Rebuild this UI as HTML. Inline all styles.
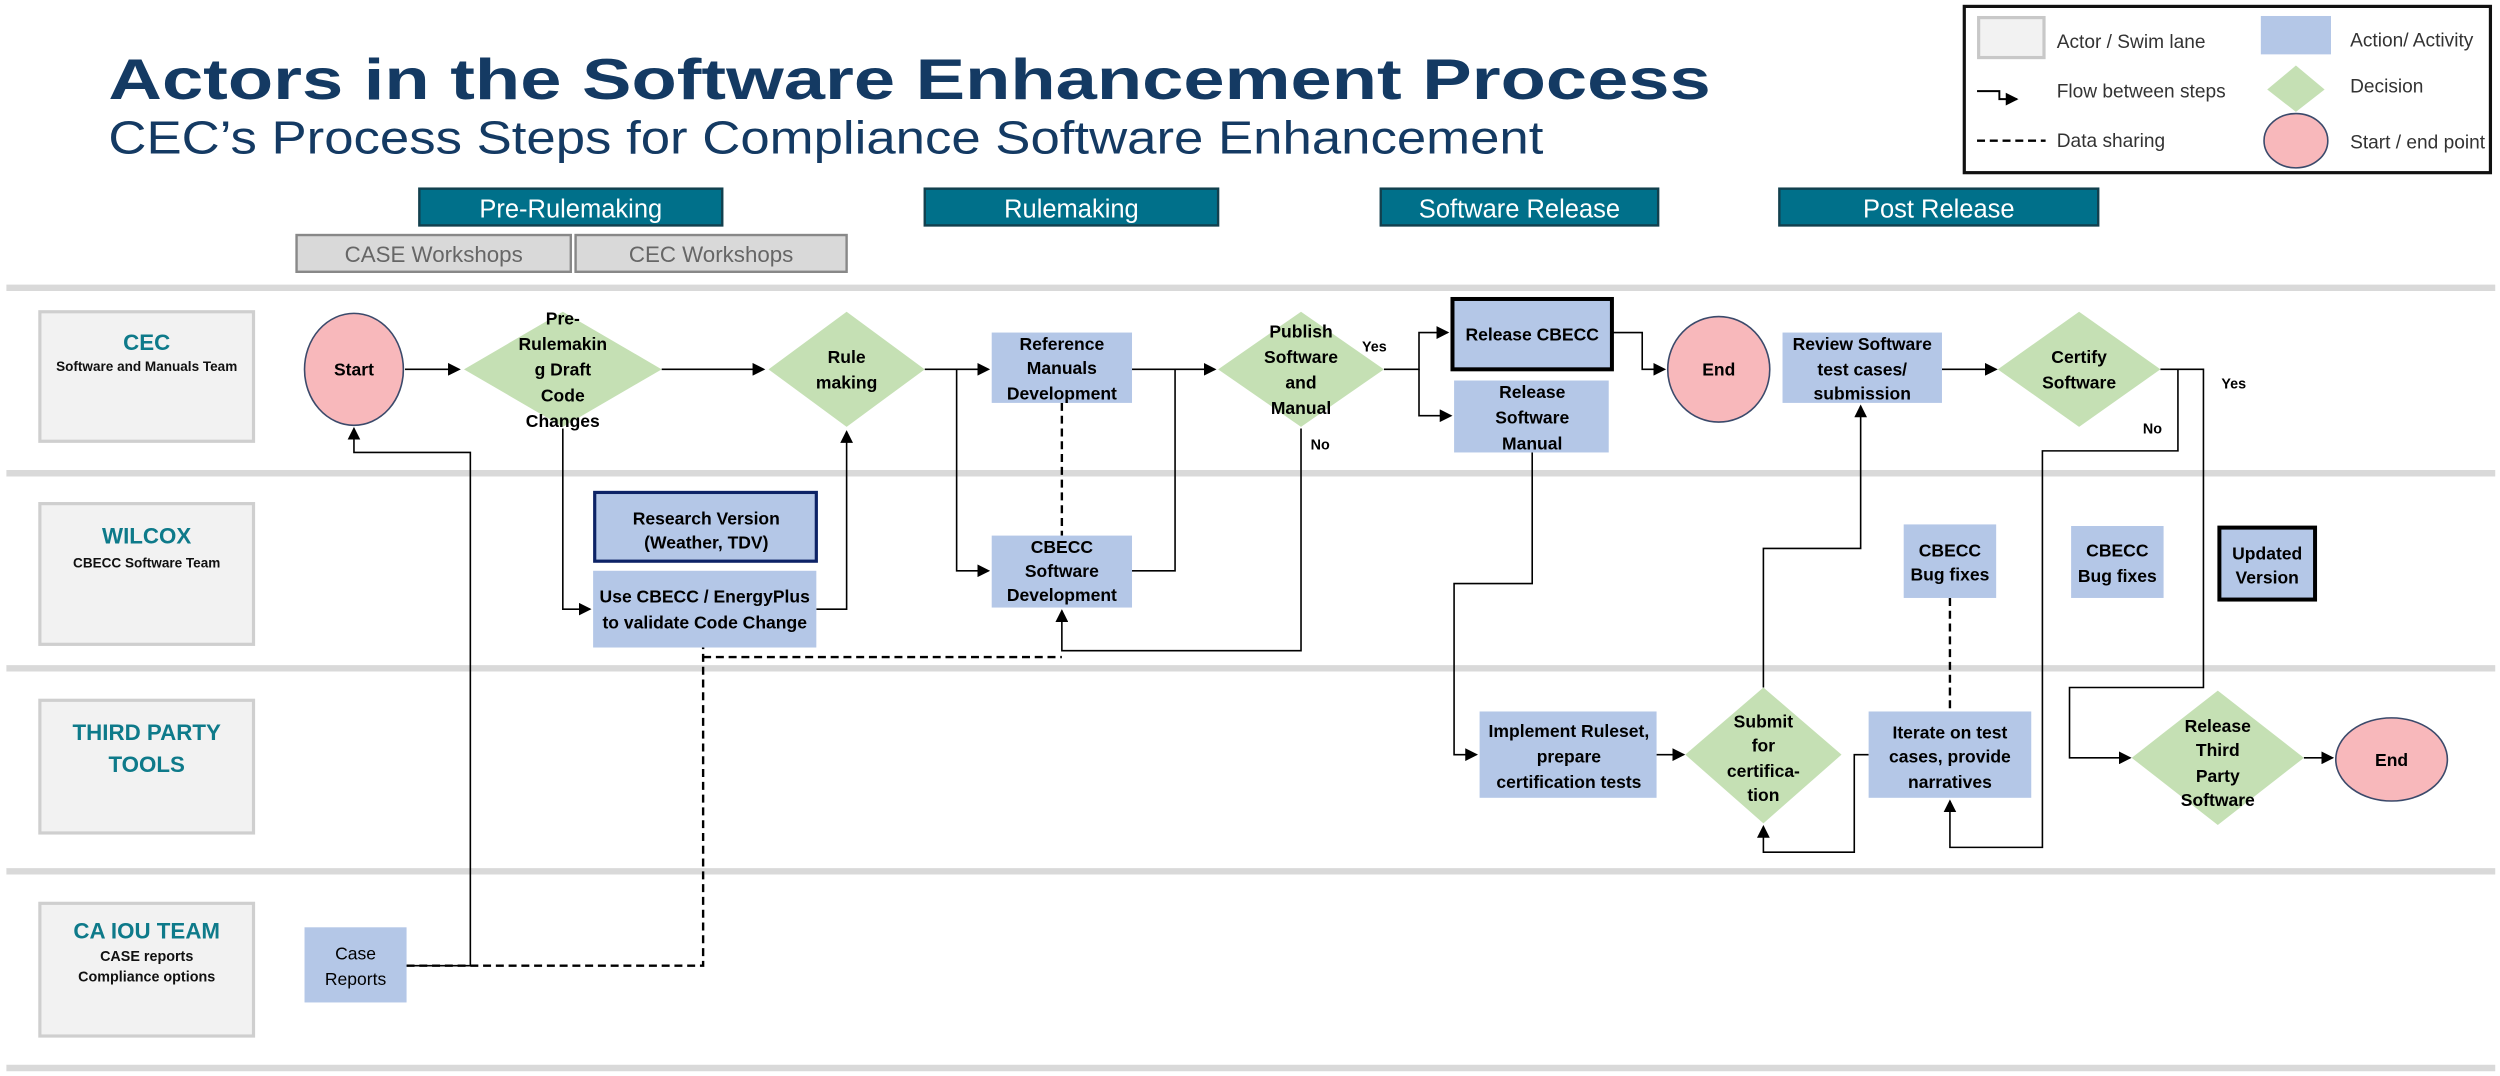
<!DOCTYPE html>
<html><head><meta charset="utf-8"><style>
html,body{margin:0;padding:0;background:#fff}
svg{display:block}
text{font-family:"Liberation Sans",sans-serif}
</style></head><body>
<svg width="2500" height="1076" viewBox="0 0 1568 673" preserveAspectRatio="none" xmlns="http://www.w3.org/2000/svg">
<defs>
<marker id="a" markerWidth="8" markerHeight="8" refX="7" refY="4" orient="auto" markerUnits="userSpaceOnUse"><path d="M0,0 L8,4 L0,8 z" fill="#000"/></marker>
</defs>
<!-- title -->
<text x="68" y="62" font-size="36" font-weight="bold" fill="#143a63" textLength="1005" lengthAdjust="spacingAndGlyphs">Actors in the Software Enhancement Process</text>
<text x="68" y="96" font-size="29" fill="#143a63" textLength="900" lengthAdjust="spacingAndGlyphs">CEC’s Process Steps for Compliance Software Enhancement</text>
<!-- legend -->
<rect x="1232" y="4" width="330" height="104" fill="#fff" stroke="#111" stroke-width="2"/>
<rect x="1241" y="11" width="41" height="25" fill="#f2f2f2" stroke="#c8c8c8" stroke-width="2"/>
<text x="1290" y="30" font-size="12" fill="#333">Actor / Swim lane</text>
<rect x="1418" y="10" width="44" height="24" fill="#b4c7e7"/>
<text x="1474" y="29" font-size="12" fill="#333">Action/ Activity</text>
<path d="M1240,57 H1254 V62 H1265" fill="none" stroke="#000" stroke-width="1.2" marker-end="url(#a)"/>
<text x="1290" y="61" font-size="12" fill="#333">Flow between steps</text>
<path d="M1440,41 L1458,56 L1440,70 L1422,56 z" fill="#c5e0b4"/>
<text x="1474" y="58" font-size="12" fill="#333">Decision</text>
<line x1="1240" y1="88" x2="1283" y2="88" stroke="#000" stroke-width="1.5" stroke-dasharray="5,3"/>
<text x="1290" y="92" font-size="12" fill="#333">Data sharing</text>
<ellipse cx="1440" cy="88" rx="20" ry="17" fill="#f8b8bb" stroke="#3b4a6b" stroke-width="1"/>
<text x="1474" y="93" font-size="12" fill="#333">Start / end point</text>
<!-- phases -->
<g font-size="16" fill="#fff" text-anchor="middle">
<rect x="263" y="118" width="190" height="23" fill="#00708a" stroke="#12404e" stroke-width="1.5"/>
<text x="358" y="136">Pre-Rulemaking</text>
<rect x="580" y="118" width="184" height="23" fill="#00708a" stroke="#12404e" stroke-width="1.5"/>
<text x="672" y="136">Rulemaking</text>
<rect x="866" y="118" width="174" height="23" fill="#00708a" stroke="#12404e" stroke-width="1.5"/>
<text x="953" y="136">Software Release</text>
<rect x="1116" y="118" width="200" height="23" fill="#00708a" stroke="#12404e" stroke-width="1.5"/>
<text x="1216" y="136">Post Release</text>
</g>
<g font-size="14" fill="#666" text-anchor="middle">
<rect x="186" y="147" width="172" height="23" fill="#d9d9d9" stroke="#888" stroke-width="1.5"/>
<text x="272" y="164">CASE Workshops</text>
<rect x="361" y="147" width="170" height="23" fill="#d9d9d9" stroke="#888" stroke-width="1.5"/>
<text x="446" y="164">CEC Workshops</text>
</g>
<!-- lanes -->
<g stroke="#d9d9d9" stroke-width="4">
<line x1="4" y1="180" x2="1565" y2="180"/>
<line x1="4" y1="296" x2="1565" y2="296"/>
<line x1="4" y1="418" x2="1565" y2="418"/>
<line x1="4" y1="545" x2="1565" y2="545"/>
<line x1="4" y1="668" x2="1565" y2="668"/>
</g>
<g fill="#f2f2f2" stroke="#cfcfcf" stroke-width="2">
<rect x="25" y="195" width="134" height="81"/>
<rect x="25" y="315" width="134" height="88"/>
<rect x="25" y="438" width="134" height="83"/>
<rect x="25" y="565" width="134" height="83"/>
</g>
<g text-anchor="middle">
<text x="92" y="219" font-size="14" font-weight="bold" fill="#0e7a8a">CEC</text>
<text x="92" y="232" font-size="8.5" font-weight="bold" fill="#111">Software and Manuals Team</text>
<text x="92" y="340" font-size="14" font-weight="bold" fill="#0e7a8a">WILCOX</text>
<text x="92" y="355" font-size="8.5" font-weight="bold" fill="#111">CBECC Software Team</text>
<text x="92" y="463" font-size="14" font-weight="bold" fill="#0e7a8a">THIRD PARTY</text>
<text x="92" y="483" font-size="14" font-weight="bold" fill="#0e7a8a">TOOLS</text>
<text x="92" y="587" font-size="14" font-weight="bold" fill="#0e7a8a">CA IOU TEAM</text>
<text x="92" y="601" font-size="9" font-weight="bold" fill="#111">CASE reports</text>
<text x="92" y="614" font-size="9" font-weight="bold" fill="#111">Compliance options</text>
</g>
<!-- connectors -->
<g fill="none" stroke="#000" stroke-width="1">
<path d="M254,231 H288" marker-end="url(#a)"/>
<path d="M415,231 H479" marker-end="url(#a)"/>
<path d="M580,231 H620" marker-end="url(#a)"/>
<path d="M600,231 V357 H620" marker-end="url(#a)"/>
<path d="M710,231 H762" marker-end="url(#a)"/>
<path d="M710,357 H737 V231"/>
<path d="M868,231 H890 V208 H908" marker-end="url(#a)"/>
<path d="M890,231 V260 H910" marker-end="url(#a)"/>
<path d="M816,268 V407 H666 V382" marker-end="url(#a)"/>
<path d="M1012,208 H1030 V231 H1044" marker-end="url(#a)"/>
<path d="M961,283 V365 H912 V472 H926" marker-end="url(#a)"/>
<path d="M1039,472 H1056" marker-end="url(#a)"/>
<path d="M1106,430 V343 H1167 V254" marker-end="url(#a)"/>
<path d="M1218,231 H1252" marker-end="url(#a)"/>
<path d="M1355,231 H1382 V430 H1298 V474 H1336" marker-end="url(#a)"/>
<path d="M1366,231 V282 H1281 V530 H1223 V501" marker-end="url(#a)"/>
<path d="M1172,472 H1163 V533 H1106 V517" marker-end="url(#a)"/>
<path d="M1445,474 H1463" marker-end="url(#a)"/>
<path d="M353,268 V381 H370" marker-end="url(#a)"/>
<path d="M512,381 H531 V270" marker-end="url(#a)"/>
<path d="M255,604 H295 V283 H222 V268" marker-end="url(#a)"/>
</g>
<g fill="none" stroke="#000" stroke-width="1.5" stroke-dasharray="5,3">
<path d="M666,252 V335"/>
<path d="M255,604 H441 V405"/>
<path d="M441,411 H666"/>
<path d="M1223,374 V445"/>
</g>
<!-- nodes -->
<g font-size="11" font-weight="bold" fill="#000" text-anchor="middle">
<ellipse cx="222" cy="231" rx="31" ry="35" fill="#f8b8bb" stroke="#3b4a6b"/>
<text x="222" y="235">Start</text>
<path d="M353,195 L415,231 L353,267 L291,231 z" fill="#c5e0b4"/>
<text x="353" y="203">Pre-</text><text x="353" y="219">Rulemakin</text><text x="353" y="235">g Draft</text><text x="353" y="251">Code</text><text x="353" y="267">Changes</text>
<path d="M531,195 L580,231 L531,267 L482,231 z" fill="#c5e0b4"/>
<text x="531" y="227">Rule</text><text x="531" y="243">making</text>
<rect x="622" y="208" width="88" height="44" fill="#b4c7e7"/>
<text x="666" y="219">Reference</text><text x="666" y="234">Manuals</text><text x="666" y="250">Development</text>
<rect x="622" y="335" width="88" height="45" fill="#b4c7e7"/>
<text x="666" y="346">CBECC</text><text x="666" y="361">Software</text><text x="666" y="376">Development</text>
<path d="M816,195 L868,231 L816,267 L764,231 z" fill="#c5e0b4"/>
<text x="816" y="211">Publish</text><text x="816" y="227">Software</text><text x="816" y="243">and</text><text x="816" y="259">Manual</text>
<text x="862" y="220" font-size="9">Yes</text>
<text x="828" y="281" font-size="9">No</text>
<rect x="911" y="187" width="100" height="44" fill="#b4c7e7" stroke="#000" stroke-width="2.5"/>
<text x="961" y="213">Release CBECC</text>
<rect x="912" y="238" width="97" height="45" fill="#b4c7e7"/>
<text x="961" y="249">Release</text><text x="961" y="265">Software</text><text x="961" y="281">Manual</text>
<ellipse cx="1078" cy="231" rx="32" ry="33" fill="#f8b8bb" stroke="#3b4a6b"/>
<text x="1078" y="235">End</text>
<rect x="1118" y="208" width="100" height="44" fill="#b4c7e7"/>
<text x="1168" y="219">Review Software</text><text x="1168" y="235">test cases/</text><text x="1168" y="250">submission</text>
<path d="M1304,195 L1355,231 L1304,267 L1253,231 z" fill="#c5e0b4"/>
<text x="1304" y="227">Certify</text><text x="1304" y="243">Software</text>
<text x="1401" y="243" font-size="9">Yes</text>
<text x="1350" y="271" font-size="9">No</text>
<rect x="373" y="308" width="139" height="43" fill="#b4c7e7" stroke="#0d2366" stroke-width="2"/>
<text x="443" y="328">Research Version</text><text x="443" y="343">(Weather, TDV)</text>
<rect x="372" y="357" width="140" height="48" fill="#b4c7e7"/>
<text x="442" y="377">Use CBECC / EnergyPlus</text><text x="442" y="393">to validate Code Change</text>
<rect x="1194" y="328" width="58" height="46" fill="#b4c7e7"/>
<text x="1223" y="348">CBECC</text><text x="1223" y="363">Bug fixes</text>
<rect x="1299" y="329" width="58" height="45" fill="#b4c7e7"/>
<text x="1328" y="348">CBECC</text><text x="1328" y="364">Bug fixes</text>
<rect x="1392" y="330" width="60" height="45" fill="#b4c7e7" stroke="#000" stroke-width="2.5"/>
<text x="1422" y="350">Updated</text><text x="1422" y="365">Version</text>
<rect x="928" y="445" width="111" height="54" fill="#b4c7e7"/>
<text x="984" y="461">Implement Ruleset,</text><text x="984" y="477">prepare</text><text x="984" y="493">certification tests</text>
<path d="M1106,430 L1155,472 L1106,515 L1057,472 z" fill="#c5e0b4"/>
<text x="1106" y="455">Submit</text><text x="1106" y="470">for</text><text x="1106" y="486">certifica-</text><text x="1106" y="501">tion</text>
<rect x="1172" y="445" width="102" height="54" fill="#b4c7e7"/>
<text x="1223" y="462">Iterate on test</text><text x="1223" y="477">cases, provide</text><text x="1223" y="493">narratives</text>
<path d="M1391,432 L1445,474 L1391,516 L1337,474 z" fill="#c5e0b4"/>
<text x="1391" y="458">Release</text><text x="1391" y="473">Third</text><text x="1391" y="489">Party</text><text x="1391" y="504">Software</text>
<ellipse cx="1500" cy="475" rx="35" ry="26" fill="#f8b8bb" stroke="#3b4a6b"/>
<text x="1500" y="479">End</text>
<rect x="191" y="580" width="64" height="47" fill="#b4c7e7"/>
<text x="223" y="600" font-weight="normal">Case</text><text x="223" y="616" font-weight="normal">Reports</text>
</g>
</svg>
</body></html>
